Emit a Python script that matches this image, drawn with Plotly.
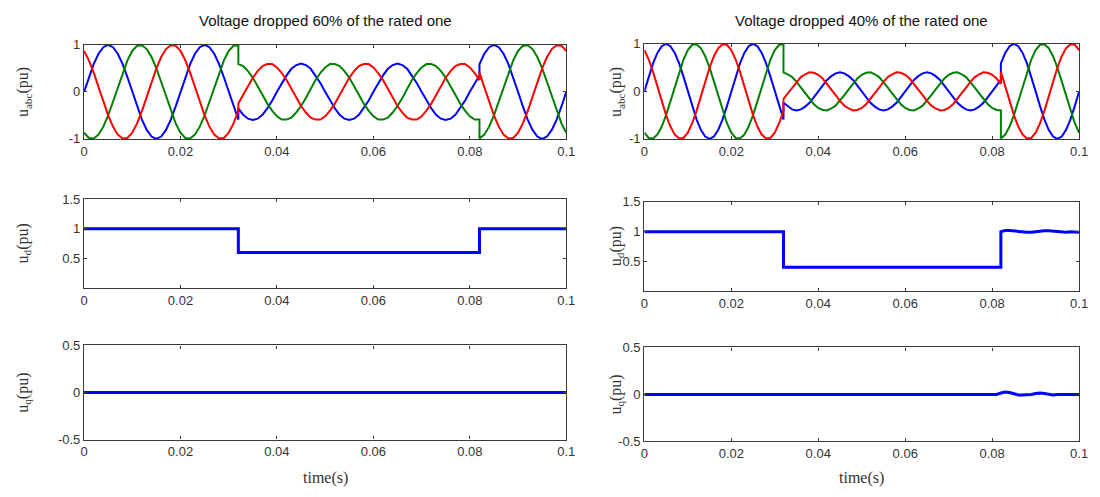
import plotly.graph_objects as go
from plotly.subplots import make_subplots

# ---------------- data ----------------
# sample times in milliseconds (the sags start at 32 ms and end at 82 ms)
time_pre_ms = [0, 1, 2, 3, 4, 5, 6, 7, 8, 9, 10, 11, 12, 13, 14, 15, 16, 17, 18, 19,
               20, 21, 22, 23, 24, 25, 26, 27, 28, 29, 30, 31, 32]
time_sag_ms = [32, 33, 34, 35, 36, 37, 38, 39, 40, 41, 42, 43, 44, 45, 46, 47, 48, 49,
               50, 51, 52, 53, 54, 55, 56, 57, 58, 59, 60, 61, 62, 63, 64, 65, 66, 67,
               68, 69, 70, 71, 72, 73, 74, 75, 76, 77, 78, 79, 80, 81, 82]
time_post_ms = [82, 83, 84, 85, 86, 87, 88, 89, 90, 91, 92, 93, 94, 95, 96, 97, 98, 99, 100]

# phase voltages before the sag (same in both cases)
ua_pre = [0, .31, .59, .81, .95, 1, .95, .81, .59, .31, 0, -.31, -.59, -.81, -.95, -1, -.95, -.81, -.59, -.31,
          0, .31, .59, .81, .95, 1, .95, .81, .59, .31, 0, -.31, -.59]
ub_pre = [.87, .67, .41, .10, -.21, -.5, -.74, -.91, -.99, -.98, -.87, -.67, -.41, -.10, .21, .5, .74, .91, .99, .98,
          .87, .67, .41, .10, -.21, -.5, -.74, -.91, -.99, -.98, -.87, -.67, -.41]
uc_pre = [-.87, -.98, -.99, -.91, -.74, -.5, -.21, .10, .41, .67, .87, .98, .99, .91, .74, .5, .21, -.10, -.41, -.67,
          -.87, -.98, -.99, -.91, -.74, -.5, -.21, .10, .41, .67, .87, .98, .99]

# phase voltages after recovery (same in both cases)
ua_post = [.59, .81, .95, 1, .95, .81, .59, .31, 0, -.31, -.59, -.81, -.95, -1, -.95, -.81, -.59, -.31, 0]
ub_post = [.41, .10, -.21, -.5, -.74, -.91, -.99, -.98, -.87, -.67, -.41, -.10, .21, .5, .74, .91, .99, .98, .87]
uc_post = [-.99, -.91, -.74, -.5, -.21, .10, .41, .67, .87, .98, .99, .91, .74, .5, .21, -.10, -.41, -.67, -.87]

# during the sag: left case (0.6 pu remaining)
ua_sag_left = [-.35, -.49, -.57, -.6, -.57, -.49, -.35, -.19,
               0, .19, .35, .49, .57, .6, .57, .49, .35, .19,
               0, -.19, -.35, -.49, -.57, -.6, -.57, -.49, -.35, -.19,
               0, .19, .35, .49, .57, .6, .57, .49, .35, .19,
               0, -.19, -.35, -.49, -.57, -.6, -.57, -.49, -.35, -.19,
               0, .19, .35]
ub_sag_left = [-.25, -.06, .13, .3, .44, .55, .59, .59,
               .52, .40, .25, .06, -.13, -.3, -.44, -.55, -.59, -.59,
               -.52, -.40, -.25, -.06, .13, .3, .44, .55, .59, .59,
               .52, .40, .25, .06, -.13, -.3, -.44, -.55, -.59, -.59,
               -.52, -.40, -.25, -.06, .13, .3, .44, .55, .59, .59,
               .52, .40, .25]
uc_sag_left = [.59, .55, .44, .3, .13, -.06, -.25, -.40,
               -.52, -.59, -.59, -.55, -.44, -.3, -.13, .06, .25, .40,
               .52, .59, .59, .55, .44, .3, .13, -.06, -.25, -.40,
               -.52, -.59, -.59, -.55, -.44, -.3, -.13, .06, .25, .40,
               .52, .59, .59, .55, .44, .3, .13, -.06, -.25, -.40,
               -.52, -.59, -.59]

# during the sag: right case (0.4 pu remaining)
ua_sag_right = [-.24, -.32, -.38, -.4, -.38, -.32, -.24, -.12,
                0, .12, .24, .32, .38, .4, .38, .32, .24, .12,
                0, -.12, -.24, -.32, -.38, -.4, -.38, -.32, -.24, -.12,
                0, .12, .24, .32, .38, .4, .38, .32, .24, .12,
                0, -.12, -.24, -.32, -.38, -.4, -.38, -.32, -.24, -.12,
                0, .12, .24]
ub_sag_right = [-.16, -.04, .08, .2, .30, .36, .40, .39,
                .35, .27, .16, .04, -.08, -.2, -.30, -.36, -.40, -.39,
                -.35, -.27, -.16, -.04, .08, .2, .30, .36, .40, .39,
                .35, .27, .16, .04, -.08, -.2, -.30, -.36, -.40, -.39,
                -.35, -.27, -.16, -.04, .08, .2, .30, .36, .40, .39,
                .35, .27, .16]
uc_sag_right = [.40, .36, .30, .2, .08, -.04, -.16, -.27,
                -.35, -.39, -.40, -.36, -.30, -.2, -.08, .04, .16, .27,
                .35, .39, .40, .36, .30, .2, .08, -.04, -.16, -.27,
                -.35, -.39, -.40, -.36, -.30, -.2, -.08, .04, .16, .27,
                .35, .39, .40, .36, .30, .2, .08, -.04, -.16, -.27,
                -.35, -.39, -.40]

# d-axis voltage
ud_left_ms = [0, 32, 32, 82, 82, 100]
ud_left = [1, 1, 0.6, 0.6, 1, 1]
ud_right_ms = [0, 32, 32, 82, 82, 83, 84, 85, 86, 87, 88, 89, 90, 91, 92, 93, 94, 95, 96, 97, 98, 99, 100]
ud_right = [1, 1, 0.4, 0.4, 1.0, 1.02, 1.02, 1.01, 1.0, 0.99, 0.99, 0.99, 1.0, 1.01, 1.015, 1.015, 1.01, 1.0,
            0.99, 0.99, 1.0, 1.0, 0.99]

# q-axis voltage
uq_left_ms = [0, 100]
uq_left = [0, 0]
uq_right_ms = [0, 81, 82, 83, 84, 85, 86, 87, 88, 89, 90, 91, 92, 93, 94, 95, 100]
uq_right = [0, 0, 0.015, 0.025, 0.02, 0.005, -0.005, -0.005, -0.005, 0, 0.01, 0.015, 0.01, 0, -0.005, 0, 0]

x_ticks = [0, 0.02, 0.04, 0.06, 0.08, 0.1]
x_tick_text = ["0", "0.02", "0.04", "0.06", "0.08", "0.1"]
titles = ["Voltage dropped 60% of the rated one", "Voltage dropped 40% of the rated one"]

# ---------------- figure ----------------
W, H = 1100, 497
BLUE, RED, GREEN = "#0000ff", "#ff0000", "#008000"


def sec(ms_list):
    return [v / 1000 for v in ms_list]


t_abc = sec(time_pre_ms + time_sag_ms + time_post_ms)
abc = {
    1: (ua_pre + ua_sag_left + ua_post, ub_pre + ub_sag_left + ub_post, uc_pre + uc_sag_left + uc_post),
    2: (ua_pre + ua_sag_right + ua_post, ub_pre + ub_sag_right + ub_post, uc_pre + uc_sag_right + uc_post),
}

fig = make_subplots(rows=3, cols=2)

for col in (1, 2):
    a, b, c = abc[col]
    for y, colr in ((a, BLUE), (c, GREEN), (b, RED)):
        fig.add_trace(go.Scatter(x=t_abc, y=y, mode="lines", line=dict(color=colr, width=2),
                                 showlegend=False, hoverinfo="skip"), row=1, col=col)

fig.add_trace(go.Scatter(x=sec(ud_left_ms), y=ud_left, mode="lines", line=dict(color=BLUE, width=3),
                         showlegend=False), row=2, col=1)
fig.add_trace(go.Scatter(x=sec(ud_right_ms), y=ud_right, mode="lines", line=dict(color=BLUE, width=3),
                         showlegend=False), row=2, col=2)
fig.add_trace(go.Scatter(x=sec(uq_left_ms), y=uq_left, mode="lines", line=dict(color=BLUE, width=3),
                         showlegend=False), row=3, col=1)
fig.add_trace(go.Scatter(x=sec(uq_right_ms), y=uq_right, mode="lines", line=dict(color=BLUE, width=3),
                         showlegend=False), row=3, col=2)

# pixel geometry of each panel: (left, right, top, bottom)
panels = {
    1: (81, 569, 39, 136), 2: (648, 1088, 38, 136),
    3: (81, 569, 198, 290), 4: (648, 1088, 201, 293),
    5: (81, 569, 349, 446), 6: (648, 1088, 351, 448),
}
yranges = {1: [-1, 1], 2: [-1, 1], 3: [0, 1.5], 4: [0, 1.5], 5: [-0.5, 0.5], 6: [-0.5, 0.5]}
yticks = {1: [-1, 0, 1], 2: [-1, 0, 1], 3: [0.5, 1, 1.5], 4: [0.5, 1, 1.5],
          5: [-0.5, 0, 0.5], 6: [-0.5, 0, 0.5]}
ytext = {1: ["-1", "0", "1"], 2: ["-1", "0", "1"], 3: ["0.5", "1", "1.5"], 4: ["0.5", "1", "1.5"],
         5: ["-0.5", "0", "0.5"], 6: ["-0.5", "0", "0.5"]}

tickfont = dict(family="Liberation Sans, Arial, sans-serif", size=13, color="#333333")
axis_common = dict(showline=True, linecolor="#3a3a3a", linewidth=1.3, mirror="ticks",
                   ticks="inside", ticklen=3, tickcolor="#3a3a3a", showgrid=False,
                   zeroline=False, tickfont=tickfont)

layout_updates = {}
for i, (l, r, t, b) in panels.items():
    sx = "" if i == 1 else str(i)
    layout_updates["xaxis" + sx] = dict(domain=[l / W, r / W], range=[0, 0.1], tickvals=x_ticks,
                                        ticktext=x_tick_text, **axis_common)
    layout_updates["yaxis" + sx] = dict(domain=[1 - b / H, 1 - t / H], range=yranges[i],
                                        tickvals=yticks[i], ticktext=ytext[i], **axis_common)
fig.update_layout(**layout_updates)

ann = []
serif = dict(family="Liberation Serif, Times New Roman, serif", size=16, color="#333333")
for col, (l, r) in ((1, (81, 569)), (2, (648, 1088))):
    cx = (l + r) / 2 / W
    ann.append(dict(text=titles[col - 1], x=cx, y=1 - 14 / H, xref="paper", yref="paper",
                    showarrow=False, xanchor="center", yanchor="middle",
                    font=dict(family="Liberation Sans, Arial, sans-serif", size=15, color="#111111")))
    ann.append(dict(text="time(s)", x=cx, y=1 - 486 / H, xref="paper", yref="paper",
                    showarrow=False, xanchor="center", yanchor="middle", font=serif))

ylab_pos = [("u<sub>abc</sub>(pu)", 20, 88), ("u<sub>d</sub>(pu)", 20, 244), ("u<sub>q</sub>(pu)", 20, 398),
            ("u<sub>abc</sub>(pu)", 620, 88), ("u<sub>d</sub>(pu)", 620, 247), ("u<sub>q</sub>(pu)", 620, 400)]
for txt, px, py in ylab_pos:
    ann.append(dict(text=txt, x=px / W, y=1 - py / H, xref="paper", yref="paper", showarrow=False,
                    textangle=-90, xanchor="center", yanchor="middle", font=serif))

fig.update_layout(width=W, height=H, margin=dict(l=0, r=0, t=0, b=0),
                  paper_bgcolor="white", plot_bgcolor="white", annotations=ann)

fig.write_html("out.html")
